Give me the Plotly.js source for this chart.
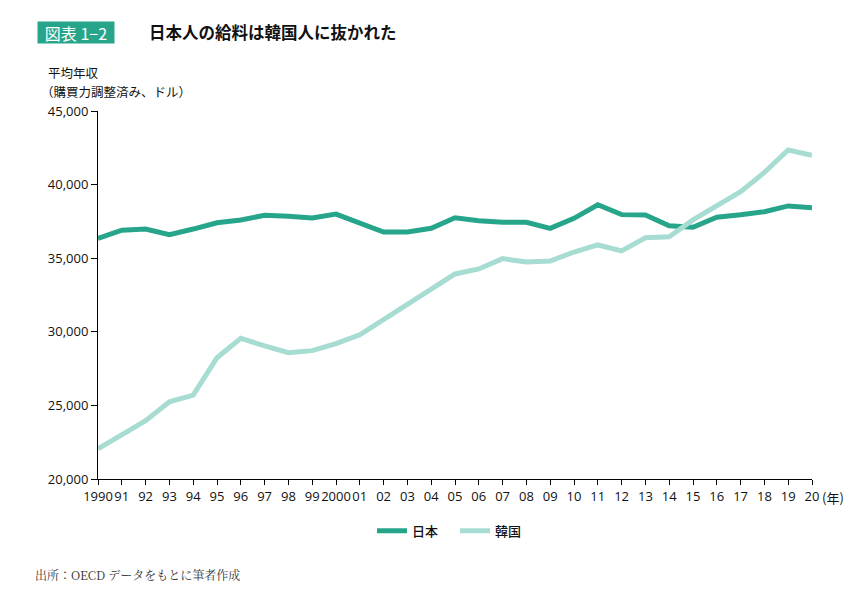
<!DOCTYPE html>
<html>
<head>
<meta charset="utf-8">
<script src="https://cdn.plot.ly/plotly-3.0.1.min.js"></script>
<style>html,body{margin:0;padding:0;background:#fff;}#chart{width:866px;height:596px;}</style>
</head>
<body>
<div id="chart"></div>
<script>
const years = [1990,1991,1992,1993,1994,1995,1996,1997,1998,1999,2000,2001,2002,2003,2004,2005,2006,2007,2008,2009,2010,2011,2012,2013,2014,2015,2016,2017,2018,2019,2020];
const japan = [36350,36900,36980,36600,36980,37410,37600,37910,37850,37730,38000,37410,36780,36780,37030,37750,37550,37440,37440,37030,37710,38630,37960,37940,37210,37100,37780,37950,38160,38550,38430];
const korea = [22050,23040,23960,25250,25700,28240,29560,29040,28580,28720,29200,29800,30850,31940,32900,33930,34270,34970,34740,34810,35420,35900,35500,36390,36460,37600,38550,39520,40830,42350,41990];
const xTickLabels = ["1990","91","92","93","94","95","96","97","98","99","2000","01","02","03","04","05","06","07","08","09","10","11","12","13","14","15","16","17","18","19","20"];
const yTickVals = [20000,25000,30000,35000,40000,45000];
const yTickLabels = ["20,000","25,000","30,000","35,000","40,000","45,000"];

const japanColor = "#27a58b";
const koreaColor = "#a6dcd1";
const tickFont = {family: "Open Sans, Liberation Sans, sans-serif", size: 13, color: "#111"};
const cjk = "Noto Sans CJK JP, sans-serif";

const traces = [
  {x: years, y: japan, name: "日本", type: "scatter", mode: "lines",
   line: {color: japanColor, width: 5}},
  {x: years, y: korea, name: "韓国", type: "scatter", mode: "lines",
   line: {color: koreaColor, width: 5}}
];

const layout = {
  width: 866, height: 596,
  margin: {l: 98, r: 54, t: 111, b: 117},
  paper_bgcolor: "#fff", plot_bgcolor: "#fff",
  showlegend: true,
  legend: {orientation: "h", x: 0.5, xanchor: "center", y: -0.1, yanchor: "top",
    font: {family: cjk, size: 13, color: "#111", weight: 500},
    entrywidth: 38, entrywidthmode: "pixels", tracegroupgap: 0},
  xaxis: {range: [1990, 2020], tickvals: years, ticktext: xTickLabels, tickangle: 0,
    showgrid: false, zeroline: false, showline: true, linecolor: "#000", linewidth: 1,
    ticks: "outside", ticklen: 5, tickcolor: "#000", tickfont: tickFont, fixedrange: true},
  yaxis: {range: [20000, 45000], tickvals: yTickVals, ticktext: yTickLabels,
    showgrid: false, zeroline: false, showline: true, linecolor: "#000", linewidth: 1,
    ticks: "outside", ticklen: 6, tickcolor: "#000", tickfont: tickFont, fixedrange: true},
  annotations: [
    {text: "図表 1−2", xref: "paper", yref: "paper", x: (37-98)/714, y: 1 + (111-32)/368,
     xanchor: "left", yanchor: "middle", showarrow: false, bgcolor: japanColor,
     width: 76, height: 21, align: "center", borderpad: 0,
     font: {family: cjk, size: 16, color: "#fff"}},
    {text: "<b>日本人の給料は韓国人に抜かれた</b>", xref: "paper", yref: "paper", x: (147-98)/714, y: 1 + (111-32)/368,
     xanchor: "left", yanchor: "middle", showarrow: false,
     font: {family: cjk, size: 16.5, color: "#111"}},
    {text: "平均年収", xref: "paper", yref: "paper", x: (47-98)/714, y: 1 + (111-72)/368,
     xanchor: "left", yanchor: "middle", showarrow: false, borderpad: 0,
     font: {family: cjk, size: 12.5, color: "#111"}},
    {text: "（購買力調整済み、ドル）", xref: "paper", yref: "paper", x: (40-98)/714, y: 1 + (111-91)/368,
     xanchor: "left", yanchor: "middle", showarrow: false, borderpad: 0,
     font: {family: cjk, size: 12.5, color: "#111"}},
    {text: "(年)", xref: "paper", yref: "paper", x: (821-98)/714, y: -(497-479)/368,
     xanchor: "left", yanchor: "middle", showarrow: false, borderpad: 0,
     font: {family: cjk, size: 13, color: "#111"}},
    {text: "出所：OECD データをもとに筆者作成", xref: "paper", yref: "paper", x: (33-98)/714, y: -(574-479)/368,
     xanchor: "left", yanchor: "middle", showarrow: false,
     font: {family: "Noto Serif CJK JP, Noto Sans CJK JP, serif", size: 12, color: "#333"}}
  ]
};

Plotly.newPlot("chart", traces, layout, {displayModeBar: false, staticPlot: true});
</script>
</body>
</html>
